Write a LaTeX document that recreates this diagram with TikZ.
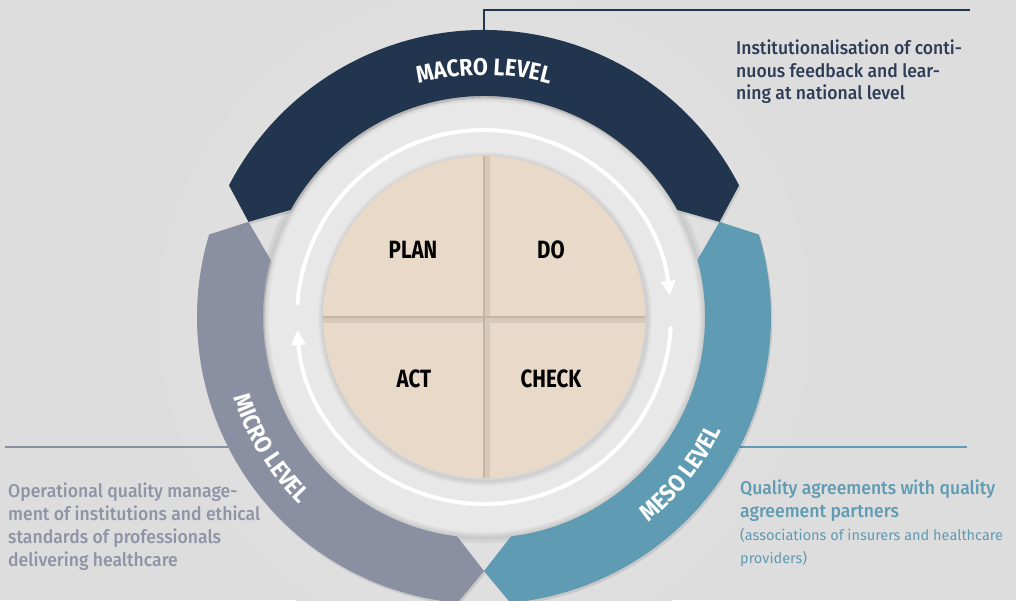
\documentclass[tikz,border=0pt]{standalone}
\usepackage{fontspec}
\setmainfont{Fira Sans}
\newfontfamily\descfont{Fira Sans Medium}[FakeStretch=0.95]
\newfontfamily\descthin{Fira Sans}[FakeStretch=1.0]
\newfontfamily\labelfont{Fira Sans Bold}[FakeStretch=0.82]
\newfontfamily\bandfont{Fira Sans Bold}[FakeStretch=0.9]
\usepackage{tikz}
\usetikzlibrary{arrows.meta,decorations.text,positioning}
\definecolor{back grey}{rgb}{0.8706, 0.8667, 0.8667}
\definecolor{ring grey}{rgb}{0.9098, 0.9098, 0.9098}
\definecolor{macro navy}{rgb}{0.1333, 0.2078, 0.3059}
\definecolor{macro ink}{rgb}{0.1765, 0.2392, 0.3412}
\definecolor{micro grey}{rgb}{0.5412, 0.5647, 0.6353}
\definecolor{micro ink}{rgb}{0.5569, 0.5804, 0.6471}
\definecolor{meso teal}{rgb}{0.3725, 0.6078, 0.7020}
\definecolor{pdca beige}{rgb}{0.9098, 0.8510, 0.7843}
\definecolor{pdca line}{rgb}{0.7686, 0.7059, 0.6353}

\begin{document}
\begin{tikzpicture}[x=1pt, y=1pt,
		cycle arrow/.style={white, line width=4, line cap=round, -{Triangle[width=14pt,length=15pt]}},
		pdca label/.style={font=\labelfont\fontsize{25}{25}\selectfont, text=black},
		desc/.style={anchor=north west, inner sep=0pt, align=left},
		leader/.style={line width=2.5}]
		\useasboundingbox (-484,-283) rectangle (532,317);
		% background and light ring
		\fill[back grey] (-484,-283) rectangle (532,317);
		\shade[inner color=ring grey, outer color=back grey] (0,0) circle (340);
		\fill[ring grey] (0,0) circle (224);
		\foreach \w in {2,4,...,12}
			\draw[black, opacity=0.018, line width=\w] (0,0) circle (221);
		% leader lines
		\coordinate (macro top) at (90:287);
		\coordinate (macro corner) at (0,307);
		\coordinate (macro end) at (486,307);
		\coordinate (micro edge) at (-245,-130);
		\coordinate (micro end) at (-479,-130);
		\coordinate (meso edge) at (245,-130);
		\coordinate (meso end) at (483,-130);
		\draw[leader, macro navy] (macro top) -- (macro corner) -- (macro end);
		\draw[leader, micro grey] (micro end) -- (micro edge);
		\draw[leader, meso teal] (meso edge) -- (meso end);
		% the three levels
		\foreach \a/\b/\col in {22/158/macro navy, 158/270/micro grey, 270/382/meso teal} {
			\fill[black, opacity=0.1, shift={(1.5,-2.5)}] (\a:254) -- ({\a+5.3}:287)
				arc[start angle={\a+5.3}, end angle={\b-5.3}, radius=287] -- (\b:254)
				-- ({\b-7}:221) arc[start angle={\b-7}, end angle={\a+7}, radius=221] -- cycle;
			\fill[\col] (\a:254) -- ({\a+5.3}:287)
				arc[start angle={\a+5.3}, end angle={\b-5.3}, radius=287] -- (\b:254)
				-- ({\b-7}:221) arc[start angle={\b-7}, end angle={\a+7}, radius=221] -- cycle;
		}
		% level names
		\path[decorate, decoration={text along path, text align=center, text color=white,
			text={|\bandfont\fontsize{24}{24}\selectfont|MACRO LEVEL}}]
			(125:242) arc[start angle=125, end angle=55, radius=242];
		\path[decorate, decoration={text along path, text align=center, text color=white,
			text={|\bandfont\fontsize{24}{24}\selectfont|MICRO LEVEL}}]
			(181.6:263) arc[start angle=181.6, end angle=241.6, radius=263];
		\path[decorate, decoration={text along path, text align=center, text color=white,
			text={|\bandfont\fontsize{24}{24}\selectfont|MESO LEVEL}}]
			(291.5:263) arc[start angle=291.5, end angle=351.5, radius=263];
		% white cycle
		\draw[cycle arrow] (175.7:187) arc[start angle=175.7, end angle=6.5, radius=187];
		\draw[cycle arrow] (356.6:187) arc[start angle=356.6, end angle=184, radius=187];
		% PDCA disk
		\foreach \w in {2,4,...,10}
			\draw[black, opacity=0.02, line width=\w] (1,-2) circle (162);
		\fill[pdca beige] (0,0) circle (161);
		\begin{scope}
			\clip (0,0) circle (161);
			\draw[black, opacity=0.07, line width=6] (2.5,-170) -- (2.5,170) (-170,-2.5) -- (170,-2.5);
			\draw[pdca line, line width=1.2] (0,-170) -- (0,170) (-170,0) -- (170,0);
		\end{scope}
		\node[pdca label] (plan) at (-71,67) {PLAN};
		\node[pdca label] (do) at (67,67) {DO};
		\node[pdca label] (act) at (-70,-62) {ACT};
		\node[pdca label] (check) at (67,-62) {CHECK};
		% descriptions
		\node[desc, text=macro ink, font=\descfont\fontsize{18.5}{22.5}\selectfont] (macro text) at (252,277)
			{Institutionalisation of conti-\\nuous feedback and lear-\\ning at national level};
		\node[desc, text=micro ink, font=\descfont\fontsize{18.5}{22.7}\selectfont] (micro text) at (-476,-166)
			{Operational quality manage-\\ment of institutions and ethical\\standards of professionals\\delivering healthcare};
		\node[desc, text=meso teal, font=\descfont\fontsize{18.5}{23}\selectfont] (meso text) at (256,-163)
			{Quality agreements with quality\\agreement partners\\{\descthin\fontsize{14.5}{23}\selectfont(associations of insurers and healthcare}\\{\descthin\fontsize{14.5}{23}\selectfont providers)}};
	\end{tikzpicture}
\end{document}
